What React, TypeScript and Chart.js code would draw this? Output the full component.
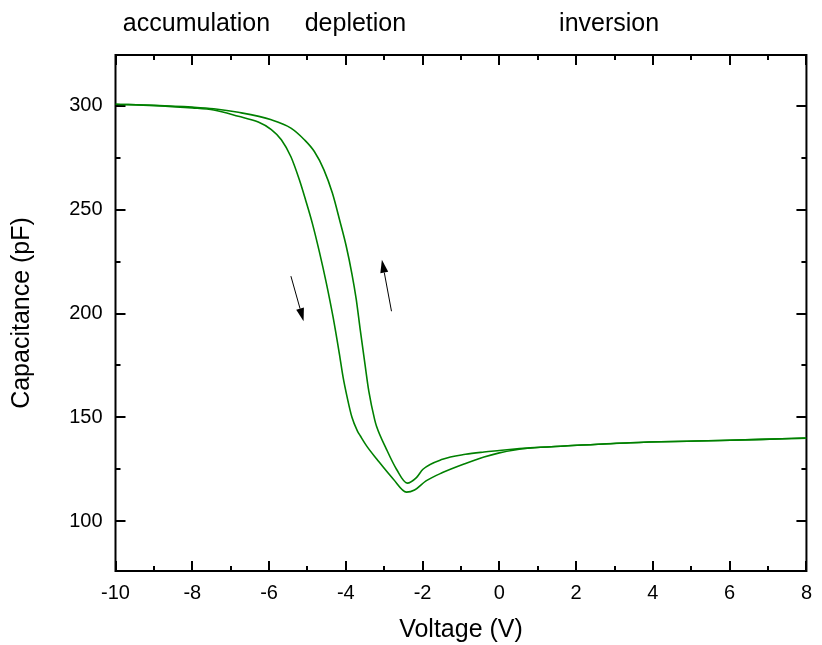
import React, { useEffect, useRef } from 'react';
import { Chart, registerables } from 'chart.js';

Chart.register(...registerables);

// Forward sweep (left branch, arrow pointing down)
const fwdV = [-10, -9, -8, -7.44, -6.8, -6.28, -5.94, -5.68, -5.43, -5.21, -5.05, -4.87, -4.69, -4.51, -4.33, -4.17, -4.07, -3.97, -3.84, -3.7, -3.62, -3.45, -3.19, -2.76, -2.42, -2.21, -1.91, -1.48, -0.88, -0.4, 0, 0.4, 0.8, 1.7, 3.42, 5.13, 6.85, 8];
const fwdC = [300.8, 300.1, 299.0, 298.0, 295.0, 292.2, 288.6, 283.7, 275.5, 264.4, 254.8, 243.3, 229.8, 214.9, 198.1, 180.8, 169.2, 160.1, 150.0, 143.5, 141.0, 136.0, 129.8, 120.2, 114.0, 115.0, 119.4, 123.4, 127.8, 130.9, 132.9, 134.3, 135.2, 136.2, 137.8, 138.6, 139.4, 140.0];

// Reverse sweep (right branch, arrow pointing up)
const revV = [-10, -9, -8, -7.44, -6.8, -5.94, -5.43, -5.08, -4.82, -4.57, -4.35, -4.15, -3.99, -3.84, -3.73, -3.63, -3.5, -3.4, -3.25, -3.2, -2.94, -2.68, -2.4, -2.16, -1.99, -1.48, -0.88, -0.4, 0, 0.4, 0.8, 1.7, 3.42, 5.13, 6.85, 8];
const revC = [300.8, 300.3, 299.4, 298.6, 296.9, 293.3, 289.3, 283.7, 278.0, 269.2, 258.0, 244.2, 232.5, 219.0, 207.0, 193.0, 175.5, 162.5, 149.0, 145.7, 134.6, 125.0, 118.3, 121.0, 125.0, 129.8, 132.2, 133.3, 134.0, 134.7, 135.3, 136.2, 137.8, 138.6, 139.4, 140.0];

const xTickValues = [-10, -8, -6, -4, -2, 0, 2, 4, 6, 8];
const yTickValues = [100, 150, 200, 250, 300];

const regionLabels = ['accumulation', 'depletion', 'inversion'];
const regionCenters = [-7.89, -3.75, 2.86];

// arrows: tail point and head point in data coordinates
const arrowFrom = [[-5.43, 218.0], [-2.81, 201.1]];
const arrowTo = [[-5.1, 196.3], [-3.06, 225.9]];

const FONT = '"Liberation Sans", Arial, Helvetica, sans-serif';

function minorValues(major: number[], min: number, max: number): number[] {
  if (major.length < 2) return [];
  const step = major[1] - major[0];
  const out: number[] = [];
  for (let v = major[0] - step / 2; v <= max + 1e-9; v += step) {
    if (v >= min - 1e-9) out.push(v);
  }
  return out;
}

const framePlugin = {
  id: 'frame',
  beforeDatasetsDraw(chart: any) {
    const { ctx, chartArea: a, scales } = chart;
    const x = scales.x;
    const y = scales.y;
    ctx.save();
    ctx.strokeStyle = '#000';
    ctx.lineWidth = 2;
    ctx.strokeRect(a.left, a.top, a.right - a.left, a.bottom - a.top);
    const major = 10;
    const minor = 5;
    const xMaj = x.ticks.map((t: any) => t.value);
    const yMaj = y.ticks.map((t: any) => t.value);
    const xMin = minorValues(xMaj, x.min, x.max);
    const yMin = minorValues(yMaj, y.min, y.max);
    ctx.beginPath();
    const xt = (v: number, len: number) => {
      const p = Math.round(x.getPixelForValue(v));
      ctx.moveTo(p, a.bottom);
      ctx.lineTo(p, a.bottom - len);
      ctx.moveTo(p, a.top);
      ctx.lineTo(p, a.top + len);
    };
    const yt = (v: number, len: number) => {
      const p = Math.round(y.getPixelForValue(v));
      ctx.moveTo(a.left, p);
      ctx.lineTo(a.left + len, p);
      ctx.moveTo(a.right, p);
      ctx.lineTo(a.right - len, p);
    };
    xMaj.forEach((v: number) => xt(v, major));
    xMin.forEach((v: number) => xt(v, minor));
    yMaj.forEach((v: number) => yt(v, major));
    yMin.forEach((v: number) => yt(v, minor));
    ctx.stroke();
    ctx.restore();
  },
};

const annotPlugin = {
  id: 'annot',
  afterDraw(chart: any) {
    const { ctx, scales } = chart;
    const x = scales.x;
    const y = scales.y;
    ctx.save();
    ctx.fillStyle = '#000';
    ctx.font = `25px ${FONT}`;
    ctx.textAlign = 'center';
    ctx.textBaseline = 'alphabetic';
    regionLabels.forEach((t, i) => {
      ctx.fillText(t, x.getPixelForValue(regionCenters[i]), 31);
    });
    ctx.strokeStyle = '#000';
    ctx.lineWidth = 1;
    arrowFrom.forEach((f, i) => {
      const t = arrowTo[i];
      const x0 = x.getPixelForValue(f[0]);
      const y0 = y.getPixelForValue(f[1]);
      const x1 = x.getPixelForValue(t[0]);
      const y1 = y.getPixelForValue(t[1]);
      const ang = Math.atan2(y1 - y0, x1 - x0);
      const hl = 13;
      const hw = 4;
      const bx = x1 - hl * Math.cos(ang);
      const by = y1 - hl * Math.sin(ang);
      ctx.beginPath();
      ctx.moveTo(x0, y0);
      ctx.lineTo(bx, by);
      ctx.stroke();
      ctx.beginPath();
      ctx.moveTo(x1, y1);
      ctx.lineTo(bx + hw * Math.sin(ang), by - hw * Math.cos(ang));
      ctx.lineTo(bx - hw * Math.sin(ang), by + hw * Math.cos(ang));
      ctx.closePath();
      ctx.fill();
    });
    ctx.restore();
  },
};

export default function App() {
  const ref = useRef<HTMLCanvasElement | null>(null);
  useEffect(() => {
    document.body.style.margin = '0';
    const canvas = ref.current;
    if (!canvas) return;
    Chart.defaults.font.family = FONT;
    const lineStyle = {
      borderColor: '#008000',
      borderWidth: 1.6,
      pointRadius: 0,
      fill: false,
      cubicInterpolationMode: 'monotone' as const,
    };
    const chart = new Chart(canvas, {
      type: 'line',
      data: {
        datasets: [
          { label: 'forward', data: fwdV.map((v, i) => ({ x: v, y: fwdC[i] })), ...lineStyle },
          { label: 'reverse', data: revV.map((v, i) => ({ x: v, y: revC[i] })), ...lineStyle },
        ],
      },
      options: {
        animation: false,
        responsive: false,
        events: [],
        layout: { padding: { top: 55, right: 7.4, left: 0, bottom: 0 } },
        plugins: { legend: { display: false }, tooltip: { enabled: false } },
        scales: {
          x: {
            type: 'linear',
            min: -10,
            max: 8,
            afterBuildTicks: (s: any) => { s.ticks = xTickValues.map((v) => ({ value: v })); },
            ticks: { color: '#000', font: { size: 20 }, padding: 10 },
            grid: { display: false, drawTicks: false },
            border: { display: false },
            title: { display: true, text: 'Voltage (V)', color: '#000', font: { size: 25 }, padding: { top: 0, bottom: 0 } },
            afterFit: (s: any) => { s.height = 74; },
          },
          y: {
            type: 'linear',
            min: 76,
            max: 324.5,
            afterBuildTicks: (s: any) => { s.ticks = yTickValues.map((v) => ({ value: v })); },
            ticks: { color: '#000', font: { size: 20 }, padding: 13 },
            grid: { display: false, drawTicks: false },
            border: { display: false },
            title: { display: true, text: 'Capacitance (pF)', color: '#000', font: { size: 25 }, padding: { top: 7, bottom: 0 } },
            afterFit: (s: any) => { s.width = 115.5; },
          },
        },
      },
      plugins: [framePlugin, annotPlugin],
    });
    return () => chart.destroy();
  }, []);
  return (
    <div style={{ width: 822, height: 645 }}>
      <canvas ref={ref} width={822} height={645} />
    </div>
  );
}
